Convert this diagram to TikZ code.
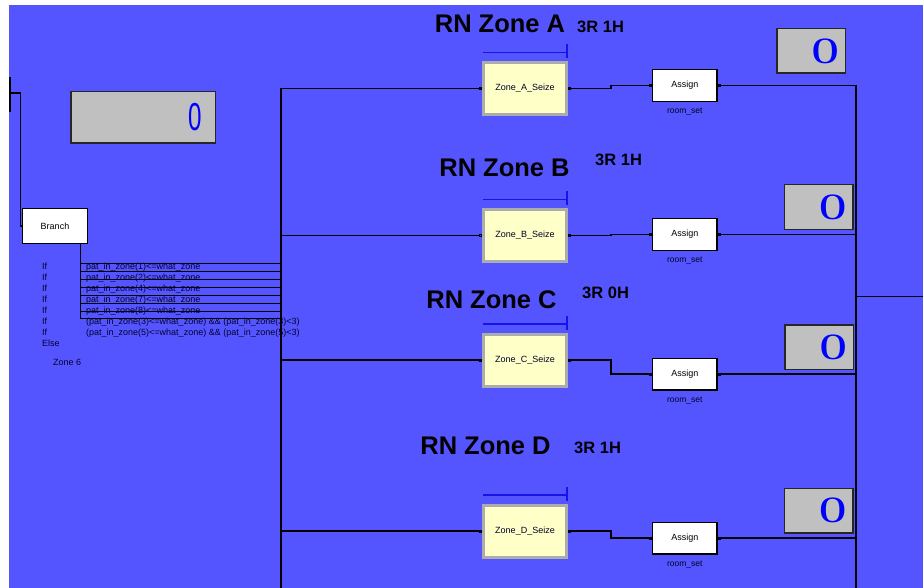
\documentclass[tikz,border=0pt]{standalone}
\usepackage{fontspec}
\setmainfont{Liberation Sans}
\newfontfamily\countfont{Liberation Serif}
\usepackage{graphicx}
\usepackage{tikz}
\usetikzlibrary{positioning, calc, arrows.meta}
\definecolor{modelblue}{RGB}{85,85,255}
\definecolor{seizefill}{RGB}{255,255,200}
\definecolor{seizeframe}{RGB}{172,172,172}
\definecolor{countfill}{RGB}{192,192,192}
\definecolor{queueblue}{RGB}{20,20,235}
\definecolor{digitblue}{RGB}{0,0,255}
\tikzstyle{seize} = [rectangle, minimum width=83pt, minimum height=52pt, inner sep=0pt, fill=seizefill, draw=seizeframe, line width=3pt, text=black!85!blue, font=\fontsize{9}{10}\selectfont]
\tikzstyle{assign} = [rectangle, minimum width=64.3pt, minimum height=31.8pt, inner sep=0pt, fill=white, draw=black, line width=1.2pt, font=\fontsize{9}{10}\selectfont]
\tikzstyle{module} = [assign, minimum width=64.8pt, minimum height=34.8pt]
\tikzstyle{setname} = [inner sep=0pt, font=\fontsize{8.5}{10}\selectfont, text=black!85!blue]
\tikzstyle{counter} = [rectangle, minimum width=68.5pt, minimum height=44.5pt, inner sep=0pt, fill=countfill, draw=black!85, line width=1.5pt, text=digitblue, font=\countfont\fontsize{37}{37}\selectfont]
\tikzstyle{conds} = [align=left, inner sep=0pt, text=black!80!blue, font=\fontsize{9}{10.9}\selectfont]
\tikzstyle{zonetitle} = [anchor=base, inner sep=0pt, font=\bfseries\fontsize{25.5}{30}\selectfont]
\tikzstyle{staff} = [anchor=base west, inner sep=0pt, font=\bfseries\fontsize{16.5}{20}\selectfont]
\tikzstyle{wire} = [line width=1.2pt]
\tikzstyle{thin_wire} = [line width=1pt]
\tikzstyle{link} = [wire, {Square[length=3pt,width=3pt]}-{Square[length=3pt,width=3pt]}]
\tikzstyle{queue} = [line width=1.5pt, draw=queueblue]

\begin{document}
\begin{tikzpicture}[x=1pt, y=-1pt, node distance=84pt]
	\useasboundingbox (0,0) rectangle (923,588);
	\fill [white] (0,0) rectangle (923,588);
	\fill [modelblue] (9,5) rectangle (923,588);

	\draw [line width=2pt] (9.5,77) -- (9.5,112);
	\coordinate (inlet) at (10,93);
	\node (countTotal) [counter, minimum width=144.5pt, minimum height=51.5pt] at (143,117.5) {\makebox[118pt][r]{\normalfont\fontsize{39}{39}\selectfont\scalebox{0.62}[1]{0}}};

	\node (branch) [module] at (55,226) {Branch};
	\draw [wire] (inlet) -- ++(10.5,0) |- (branch.west);
	\node (rules) [conds, anchor=north west] at (42,263) {\makebox[44pt][l]{If}pat\_in\_zone(1)<=what\_zone\\
		\makebox[44pt][l]{If}pat\_in\_zone(2)<=what\_zone\\
		\makebox[44pt][l]{If}pat\_in\_zone(4)<=what\_zone\\
		\makebox[44pt][l]{If}pat\_in\_zone(7)<=what\_zone\\
		\makebox[44pt][l]{If}pat\_in\_zone(8)<=what\_zone\\
		\makebox[44pt][l]{If}(pat\_in\_zone(3)<=what\_zone) \&\& (pat\_in\_zone(3)<3)\\
		\makebox[44pt][l]{If}(pat\_in\_zone(5)<=what\_zone) \&\& (pat\_in\_zone(5)<3)\\
		Else};
	\node (zone6) [conds, anchor=west] at (53,362) {Zone 6};

	\coordinate (fork) at ($(branch.south east)+(-8,0)$);
	\coordinate (trunk) at (281,588);
	\draw [thin_wire] (fork) -- (fork |- 0,318);
	\draw [thin_wire] (fork |- 0,263) -- (trunk |- 0,263);
	\draw [thin_wire] (fork |- 0,271) -- (trunk |- 0,271);
	\draw [thin_wire] (fork |- 0,279) -- (trunk |- 0,279);
	\draw [thin_wire] (fork |- 0,287) -- (trunk |- 0,287);
	\draw [thin_wire] (fork |- 0,295) -- (trunk |- 0,295);
	\draw [thin_wire] (fork |- 0,303) -- (trunk |- 0,303);
	\draw [thin_wire] (fork |- 0,311) -- (trunk |- 0,311);
	\draw [thin_wire] (fork |- 0,318) -- (trunk |- 0,318);

	\node (titleA) [zonetitle] at (500,33) {RN Zone A};
	\node (staffA) [staff] at (577,33) {3R 1H};
	\node (seizeA) [seize] at (525,88.5) {Zone\_A\_Seize};
	\draw [queue] ($(seizeA.north west)+(1,-8.7)$) -- ++(84,0) ++(0,-8.3) -- ++(0,14);
	\node (assignA) [assign, right=of seizeA, yshift=3pt] {Assign};
	\node (setA) [setname, below=6pt of assignA] {room\_set};
	\node (countA) [counter] at (811,51) {\makebox[56pt][r]{\scalebox{1.5}[1]{0}}};

	\node (titleB) [zonetitle] at (504.5,177) {RN Zone B};
	\node (staffB) [staff] at (595,166) {3R 1H};
	\node (seizeB) [seize] at (525,235.5) {Zone\_B\_Seize};
	\draw [queue] ($(seizeB.north west)+(1,-8.7)$) -- ++(84,0) ++(0,-8.3) -- ++(0,14);
	\node (assignB) [assign, right=of seizeB, yshift=1.2pt] {Assign};
	\node (setB) [setname, below=6pt of assignB] {room\_set};
	\node (countB) [counter] at (818.5,207) {\makebox[56pt][r]{\scalebox{1.5}[1]{0}}};

	\node (titleC) [zonetitle] at (491.5,308) {RN Zone C};
	\node (staffC) [staff] at (582,298) {3R 0H};
	\node (seizeC) [seize] at (525,360) {Zone\_C\_Seize};
	\draw [queue] ($(seizeC.north west)+(1,-8.7)$) -- ++(84,0) ++(0,-8.3) -- ++(0,14);
	\node (assignC) [assign, right=of seizeC, yshift=-14pt] {Assign};
	\node (setC) [setname, below=6pt of assignC] {room\_set};
	\node (countC) [counter] at (819,347) {\makebox[56pt][r]{\scalebox{1.5}[1]{0}}};

	\node (titleD) [zonetitle] at (485.5,454) {RN Zone D};
	\node (staffD) [staff] at (574,453) {3R 1H};
	\node (seizeD) [seize] at (525,531) {Zone\_D\_Seize};
	\draw [queue] ($(seizeD.north west)+(1,-8.7)$) -- ++(84,0) ++(0,-8.3) -- ++(0,14);
	\node (assignD) [assign, right=of seizeD, yshift=-7pt] {Assign};
	\node (setD) [setname, below=6pt of assignD] {room\_set};
	\node (countD) [counter] at (818.5,510.5) {\makebox[56pt][r]{\scalebox{1.5}[1]{0}}};

	\draw [wire, -{Square[length=3pt,width=3pt]}] (trunk) |- (seizeA.west);
	\draw [wire, -{Square[open,length=3pt,width=3pt]}] (trunk |- seizeB.west) -- (seizeB.west);
	\draw [wire, -{Square[open,length=3pt,width=3pt]}] (trunk |- seizeC.west) -- (seizeC.west);
	\draw [wire, -{Square[open,length=3pt,width=3pt]}] (trunk |- seizeD.west) -- (seizeD.west);

	\draw [link] (seizeA.east) -- ++(43,0) |- (assignA.west);
	\draw [link] (seizeB.east) -- ++(43,0) |- (assignB.west);
	\draw [link] (seizeC.east) -- ++(43,0) |- (assignC.west);
	\draw [link] (seizeD.east) -- ++(43,0) |- (assignD.west);

	\coordinate (exit) at (856,588);
	\coordinate (dispose) at (923,296.5);
	\draw [wire, {Square[length=3pt,width=3pt]}-] (assignA.east) -| (exit);
	\draw [wire, {Square[length=3pt,width=3pt]}-] (assignB.east) -- (assignB.east -| exit);
	\draw [wire, {Square[length=3pt,width=3pt]}-] (assignC.east) -- (assignC.east -| exit);
	\draw [wire, {Square[length=3pt,width=3pt]}-] (assignD.east) -- (assignD.east -| exit);
	\draw [wire] (exit |- dispose) -- (dispose);
\end{tikzpicture}
\end{document}
